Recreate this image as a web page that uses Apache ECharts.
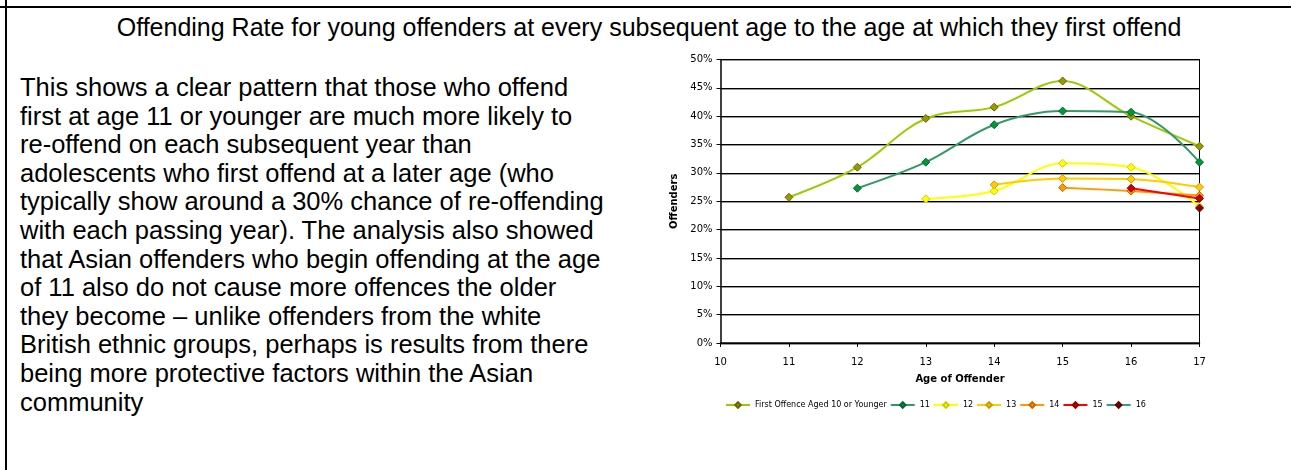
<!DOCTYPE html>
<html>
<head>
<meta charset="utf-8">
<script src="https://cdn.jsdelivr.net/npm/echarts@6/dist/echarts.min.js"></script>
<style>
  html, body { margin: 0; padding: 0; background: #fff; }
  body { width: 1291px; height: 470px; position: relative; overflow: hidden; font-family: "Liberation Sans", Arial, sans-serif; }
  #topLine { position: absolute; left: 0; top: 6px; width: 1291px; height: 2px; background: #000; }
  #leftLine { position: absolute; left: 5px; top: 0; width: 2px; height: 470px; background: #000; }
  #titulo { position: absolute; left: 0; top: 13px; width: 1298px; text-align: center; font-size: 25px; line-height: 28px; color: #000; white-space: nowrap; }
  #texto { position: absolute; left: 20px; top: 73px; width: 660px; font-size: 25.5px; line-height: 28.6px; color: #000; white-space: nowrap; }
  #grafico { position: absolute; left: 640px; top: 50px; width: 620px; height: 420px; }
</style>
</head>
<body>
<div id="topLine"></div>
<div id="leftLine"></div>
<div id="titulo">Offending Rate for young offenders at every subsequent age to the age at which they first offend</div>
<div id="texto">This shows a clear pattern that those who offend<br>first at age 11 or younger are much more likely to<br>re-offend on each subsequent year than<br>adolescents who first offend at a later age (who<br>typically show around a 30% chance of re-offending<br>with each passing year). The analysis also showed<br>that Asian offenders who begin offending at the age<br>of 11 also do not cause more offences the older<br>they become – unlike offenders from the white<br>British ethnic groups, perhaps is results from there<br>being more protective factors within the Asian<br>community</div>
<div id="grafico"></div>
<script>
// Dados (idades 11 a 17, null = sem valor)
const idades = [11, 12, 13, 14, 15, 16, 17];
const nomes = ["First Offence Aged 10 or Younger", "11", "12", "13", "14", "15", "16"];
const aos10 = [25.7, 31.0, 39.6, 41.6, 46.2, 40.0, 34.7];
const aos11 = [null, 27.3, 31.9, 38.5, 40.9, 40.7, 31.9];
const aos12 = [null, null, 25.4, 26.8, 31.7, 31.0, 24.1];
const aos13 = [null, null, null, 27.9, 29.0, 28.9, 27.5];
const aos14 = [null, null, null, null, 27.4, 26.8, 26.0];
const aos15 = [null, null, null, null, null, 27.3, 25.5];
const aos16 = [null, null, null, null, null, null, 23.8];
const yTicks = ["0%", "5%", "10%", "15%", "20%", "25%", "30%", "35%", "40%", "45%", "50%"];

const valores = [aos10, aos11, aos12, aos13, aos14, aos15, aos16];
const corLinha = ["#99cc00", "#339966", "#ffff00", "#ffcc00", "#ff9900", "#ff0000", "#339999"];
const corMarca = ["#999900", "#009933", "#ffff00", "#ffcc00", "#ff9900", "#cc0000", "#800000"];
const corBorda = ["#666600", "#006633", "#cccc00", "#cc9900", "#cc6600", "#990000", "#660000"];

const fonte = "DejaVu Sans";

const series = valores.map((v, i) => {
  const pontos = [];
  v.forEach((y, j) => { if (y !== null) pontos.push([idades[j], y]); });
  return {
    name: nomes[i],
    type: "line",
    data: pontos,
    smooth: 0.35,
    symbol: "diamond",
    symbolSize: 8,
    showSymbol: true,
    lineStyle: { color: corLinha[i], width: i === 6 ? 1 : 2 },
    itemStyle: { color: corMarca[i], borderColor: corBorda[i], borderWidth: 1 },
    z: 2 + i
  };
});

const chart = echarts.init(document.getElementById("grafico"));
chart.setOption({
  animation: false,
  grid: { left: 80.5, top: 9.5, width: 479, height: 283.5 },
  legend: {
    left: 80, top: 346,
    itemWidth: 24, itemHeight: 7, itemGap: 3,
    textStyle: { fontFamily: fonte, fontSize: 8, color: "#000" },
    data: nomes
  },
  xAxis: {
    type: "value", min: 10, max: 17, interval: 1,
    name: "Age of Offender", nameLocation: "middle", nameGap: 31,
    nameTextStyle: { fontFamily: fonte, fontSize: 10, fontWeight: "bold", color: "#000" },
    axisLine: { lineStyle: { color: "#000", width: 1.5 } },
    axisTick: { show: true, length: 4, lineStyle: { color: "#000" } },
    axisLabel: { fontFamily: fonte, fontSize: 10, color: "#000", margin: 14 },
    splitLine: { show: false }
  },
  yAxis: [{
    type: "value", min: 0, max: 50, interval: 5,
    name: "Offenders", nameLocation: "middle", nameGap: 38,
    nameTextStyle: { fontFamily: fonte, fontSize: 10, fontWeight: "bold", color: "#000" },
    axisLine: { show: true, lineStyle: { color: "#000", width: 1.5 } },
    axisTick: { show: true, length: 4, lineStyle: { color: "#000" } },
    axisLabel: { fontFamily: fonte, fontSize: 10, color: "#000", margin: 8,
      formatter: (v) => yTicks[Math.round(v / 5)] },
    splitLine: { show: true, lineStyle: { color: "#000", width: 1, shadowColor: "#999", shadowOffsetY: 1, shadowBlur: 0 } }
  }, {
    type: "value", min: 0, max: 50, interval: 5, position: "right",
    axisLine: { show: true, lineStyle: { color: "#000", width: 1 } },
    axisTick: { show: false }, axisLabel: { show: false }, splitLine: { show: false }
  }],
  series: series
});
</script>
</body>
</html>
